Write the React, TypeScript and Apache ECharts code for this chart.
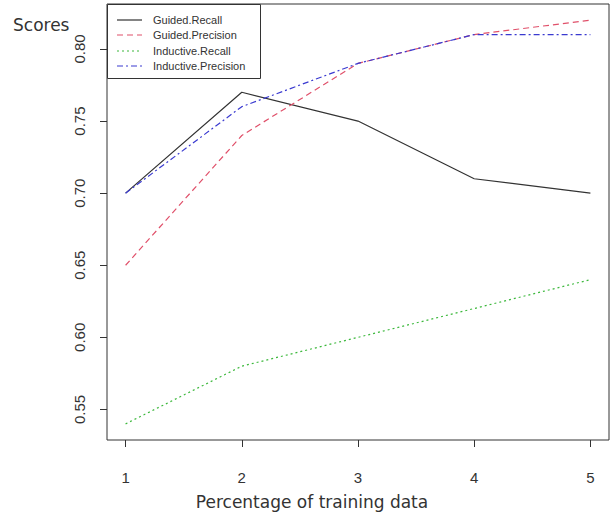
import React, { useEffect, useRef } from "react";
import * as echarts from "echarts";

const xValues = [1, 2, 3, 4, 5];
const seriesNames = ["Guided.Recall", "Guided.Precision", "Inductive.Recall", "Inductive.Precision"];
const guidedRecall = [0.70, 0.77, 0.75, 0.71, 0.70];
const guidedPrecision = [0.65, 0.74, 0.79, 0.81, 0.82];
const inductiveRecall = [0.54, 0.58, 0.60, 0.62, 0.64];
const inductivePrecision = [0.70, 0.76, 0.79, 0.81, 0.81];
const yTicks = [0.55, 0.60, 0.65, 0.70, 0.75, 0.80];
const xTicks = [1, 2, 3, 4, 5];
const xTitle = "Percentage of training data";
const yTitle = "Scores";
const colors = ["#333333", "#e0506a", "#3cb83c", "#3a3ad0"];
const dashes: any[] = ["solid", [6, 4], [2, 3], [6, 3, 2, 3]];

export default function App() {
  const ref = useRef<HTMLDivElement>(null);
  useEffect(() => {
    if (!ref.current) return;
    const chart = echarts.init(ref.current, null, { renderer: "svg" });
    const pair = (ys: number[]) => xValues.map((x, i) => [x, ys[i]]);
    const all = [guidedRecall, guidedPrecision, inductiveRecall, inductivePrecision];
    const series = seriesNames.map((name, i) => ({
      name,
      type: "line",
      data: pair(all[i]),
      symbol: "none",
      lineStyle: { color: colors[i], width: 1.2, type: dashes[i] },
      itemStyle: { color: colors[i] },
    }));
    const legendY = [20, 35, 51, 66];
    const legendGraphics: any[] = [
      { type: "rect", shape: { x: 107.5, y: 4.5, width: 153, height: 74 }, style: { fill: "#fff", stroke: "#333", lineWidth: 1 }, z: 100 },
    ];
    seriesNames.forEach((name, i) => {
      legendGraphics.push({
        type: "line",
        shape: { x1: 117, y1: legendY[i], x2: 142, y2: legendY[i] },
        style: { stroke: colors[i], lineWidth: 1.2, lineDash: dashes[i] === "solid" ? null : dashes[i] },
        z: 101,
      });
      legendGraphics.push({
        type: "text",
        x: 153,
        y: legendY[i],
        style: { text: name, fontSize: 11, fill: "#333", verticalAlign: "middle", fontFamily: "Liberation Sans, Arial, sans-serif" },
        z: 101,
      });
    });
    chart.setOption({
      animation: false,
      backgroundColor: "#ffffff",
      grid: { left: 107, right: 2, top: 4, bottom: 73, show: true, borderColor: "#333", borderWidth: 1, backgroundColor: "transparent" },
      xAxis: {
        type: "value",
        min: 0.84,
        max: 5.16,
        axisLine: { show: false },
        splitLine: { show: false },
        axisTick: { show: true, length: 7, lineStyle: { color: "#333" }, customValues: xTicks },
        axisLabel: { customValues: xTicks, margin: 30, fontSize: 15, color: "#333", fontFamily: "Liberation Sans, Arial, sans-serif" },
      },
      yAxis: {
        type: "value",
        min: 0.5288,
        max: 0.8312,
        axisLine: { show: false },
        splitLine: { show: false },
        axisTick: { show: true, length: 7, lineStyle: { color: "#333" }, customValues: yTicks },
        axisLabel: {
          customValues: yTicks,
          rotate: 90,
          margin: 20,
          fontSize: 15,
          color: "#333",
          fontFamily: "Liberation Sans, Arial, sans-serif",
          formatter: (v: number) => v.toFixed(2),
        },
      },
      graphic: [
        { type: "text", x: 13, y: 25, style: { text: yTitle, fontSize: 17, fill: "#333", verticalAlign: "middle", fontFamily: "DejaVu Sans, sans-serif" } },
        { type: "text", x: 312, y: 502, style: { text: xTitle, fontSize: 17, fill: "#333", align: "center", verticalAlign: "middle", fontFamily: "DejaVu Sans, sans-serif" } },
        ...legendGraphics,
      ],
      series,
    });
    return () => chart.dispose();
  }, []);
  return <div ref={ref} style={{ width: 611, height: 513, position: "absolute", left: 0, top: 0 }} />;
}
